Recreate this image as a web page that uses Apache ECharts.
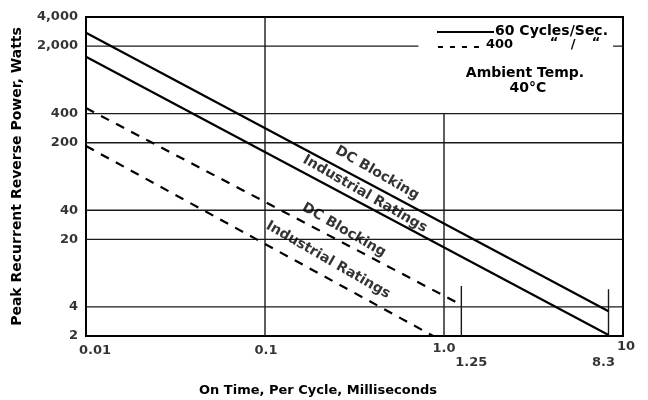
<!DOCTYPE html>
<html>
<head>
<meta charset="utf-8">
<script src="https://cdn.jsdelivr.net/npm/echarts@6/dist/echarts.min.js"></script>
<style>html,body{margin:0;padding:0;background:#fff}#c{width:648px;height:400px}</style>
</head>
<body>
<div id="c"></div>
<script>
// ---- data ----
const dc60X = [0.01, 8.3];
const dc60Y = [2750, 3.6];
const ind60X = [0.01, 8.3];
const ind60Y = [1550, 2.05];
const dc400X = [0.01, 1.25];
const dc400Y = [457, 4.2];
const ind400X = [0.01, 0.87];
const ind400Y = [185, 2];

const yTickValues = [2, 4, 20, 40, 200, 400, 2000, 4000];
const yTickLabels = ['2', '4', '20', '40', '200', '400', '2,000', '4,000'];
const xTickValues = [0.01, 0.1, 1, 1.25, 8.3, 10];
const xTickLabels = ['0.01', '0.1', '1.0', '1.25', '8.3', '10'];

// grid line segments [x1, y1, x2, y2]
const hGrid = [
  [0.01, 4, 10, 4], [0.01, 20, 10, 20], [0.01, 40, 10, 40],
  [0.01, 200, 10, 200], [0.01, 400, 10, 400],
  [0.01, 2000, 0.72, 2000], [8.8, 2000, 10, 2000]
];
const vGrid = [
  [0.1, 2, 0.1, 4000], [1, 2, 1, 400], [1.25, 2, 1.25, 6.6], [8.3, 2, 8.3, 6.1]
];

// line annotation labels: [x, y, text]
const lineLabels = [
  [0.423, 97, 'DC Blocking'],
  [0.362, 58.9, 'Industrial Ratings'],
  [0.276, 24.9, 'DC Blocking'],
  [0.225, 12.2, 'Industrial Ratings']
];

// ---- styles ----
const FONT = 'DejaVu Sans';
const xLabelOffset = [[9, 0], [1, 0], [0, -2], [10, 12], [-5, 12], [3, -4]];

const pair = (xs, ys) => xs.map((x, i) => [x, ys[i]]);

const series = [];
[...hGrid, ...vGrid].forEach(s => {
  series.push({
    type: 'line', silent: true, symbol: 'none', z: 1,
    data: [[s[0], s[1]], [s[2], s[3]]],
    lineStyle: { color: '#1a1a1a', width: 1.4 }
  });
});

const mainLine = (xs, ys, dashed) => ({
  type: 'line', silent: true, symbol: 'none', z: 3,
  data: pair(xs, ys),
  lineStyle: { color: '#000', width: 2.2, type: dashed ? [9, 8] : 'solid' }
});
series.push(mainLine(dc60X, dc60Y, false));
series.push(mainLine(ind60X, ind60Y, false));
series.push(mainLine(dc400X, dc400Y, true));
series.push(mainLine(ind400X, ind400Y, true));

series.push({
  type: 'scatter', silent: true, symbolSize: 0, z: 5,
  data: lineLabels.map(l => ({ value: [l[0], l[1]], name: l[2] })),
  label: {
    show: true, position: 'inside', rotate: -30,
    formatter: p => p.name,
    fontFamily: FONT, fontWeight: 'bold', fontSize: 14, color: '#000',
    textBorderWidth: 0
  }
});

// y tick labels
series.push({
  type: 'scatter', silent: true, symbolSize: 0, z: 5,
  data: yTickValues.map((v, i) => ({ value: [0.01, v], name: yTickLabels[i] })),
  label: {
    show: true, position: 'left', distance: 8,
    formatter: p => p.name,
    fontFamily: FONT, fontWeight: 'bold', fontSize: 13, color: '#000'
  }
});
// x tick labels
series.push({
  type: 'scatter', silent: true, symbolSize: 0, z: 5,
  data: xTickValues.map((v, i) => ({
    value: [v, 2], name: xTickLabels[i],
    label: { offset: xLabelOffset[i] }
  })),
  label: {
    show: true, position: 'bottom', distance: 8,
    formatter: p => p.name,
    fontFamily: FONT, fontWeight: 'bold', fontSize: 13, color: '#000'
  }
});

const txt = (text, x, y, size, align) => ({
  type: 'text', z: 100, silent: true,
  style: {
    text, x, y, fill: '#000',
    font: 'bold ' + size + 'px "' + FONT + '"',
    textAlign: align || 'center', textVerticalAlign: 'middle'
  }
});

const chart = echarts.init(document.getElementById('c'), null, { renderer: 'canvas' });
chart.setOption({
  animation: false,
  backgroundColor: '#fff',
  grid: { left: 86, right: 25, top: 17, bottom: 64, show: true, borderColor: '#000', borderWidth: 2, backgroundColor: 'transparent' },
  xAxis: {
    type: 'log', logBase: 10, min: 0.01, max: 10,
    axisLine: { show: true, lineStyle: { color: '#000', width: 2 } },
    axisTick: { show: false }, axisLabel: { show: false }, splitLine: { show: false }
  },
  yAxis: {
    type: 'log', logBase: 10, min: 2, max: 4000,
    name: 'Peak Recurrent Reverse Power, Watts',
    nameLocation: 'middle', nameGap: 62, nameRotate: 90,
    nameTextStyle: { fontFamily: FONT, fontWeight: 'bold', fontSize: 14, color: '#000' },
    axisLine: { show: true, lineStyle: { color: '#000', width: 2 } },
    axisTick: { show: false }, axisLabel: { show: false }, splitLine: { show: false }
  },
  graphic: [
    txt('On Time, Per Cycle, Milliseconds', 318, 391, 13),
    { type: 'line', z: 100, silent: true, shape: { x1: 437, y1: 32, x2: 494, y2: 32 }, style: { stroke: '#000', lineWidth: 2 } },
    txt('60 Cycles/Sec.', 495, 31, 14, 'left'),
    { type: 'line', z: 100, silent: true, shape: { x1: 438, y1: 47, x2: 484, y2: 47 }, style: { stroke: '#000', lineWidth: 2.2, lineDash: [5, 7] } },
    txt('400', 486, 45, 13, 'left'),
    txt('\u201C', 554, 43, 13),
    txt('/', 573, 45, 13),
    txt('\u201C', 596, 43, 13),
    txt('Ambient Temp.', 525, 73, 14),
    txt('40\u00B0C', 528, 88, 14)
  ],
  series
});
</script>
</body>
</html>
